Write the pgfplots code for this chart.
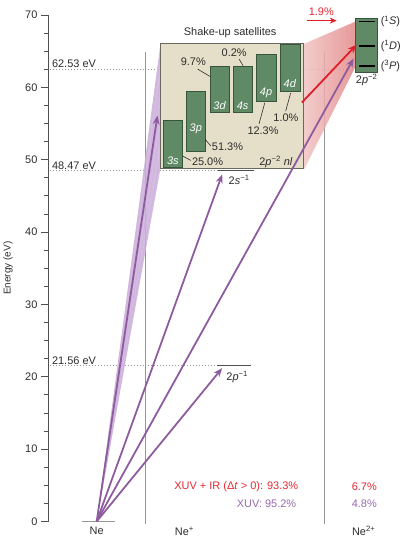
\documentclass[border=0pt]{standalone}
\usepackage{pgfplots}
\pgfplotsset{compat=1.18}
\usepackage{fontspec}
\setmainfont{Liberation Sans}
\usetikzlibrary{arrows.meta}

\definecolor{purp}{RGB}{142,92,158}
\definecolor{purptxt}{RGB}{150,105,172}
\definecolor{fanfill}{RGB}{205,175,220}
\definecolor{redarr}{RGB}{222,30,40}
\definecolor{redtxt}{RGB}{228,40,50}
\definecolor{shadeL}{RGB}{242,195,195}
\definecolor{shadeR}{RGB}{226,135,135}
\definecolor{grn}{RGB}{96,138,102}
\definecolor{grnline}{RGB}{55,85,60}
\definecolor{beige}{RGB}{229,222,200}
\definecolor{boxgray}{RGB}{105,105,95}
\definecolor{lvlgray}{RGB}{150,150,150}
\definecolor{axgray}{RGB}{80,80,80}
\definecolor{txtgray}{RGB}{45,45,45}

\newcommand{\lbl}{\fontsize{11}{13}\selectfont}

\begin{document}
\begin{tikzpicture}
\begin{axis}[
  scale only axis, width=351pt, height=508.5pt,
  xmin=49, xmax=400, ymin=0, ymax=70,
  axis x line=none,
  axis y line*=left,
  axis line style={draw=axgray, line width=0.8pt, -},
  ytick={0,10,...,70},
  minor y tick num=3,
  ytick pos=left,
  tick align=outside,
  major tick length=8pt, minor tick length=5pt,
  every tick/.style={axgray, line width=0.8pt},
  yticklabel style={font=\lbl, text=txtgray},
  /pgf/number format/assume math mode=true,
  ylabel={Energy (eV)},
  ylabel style={font=\fontsize{10}{12}\selectfont, text=txtgray, at={(axis description cs:-0.117,0.5)}, anchor=center},
  clip=false, no markers,
]
% overall extent of the figure
\path (axis cs:0,-2.134) rectangle (axis cs:401,72.07);

% reference energies
\addplot[lvlgray, line width=0.7pt, dash pattern=on 0.8pt off 2.2pt] coordinates {(50,62.53) (355,62.53)};
\addplot[lvlgray, line width=0.7pt, dash pattern=on 0.8pt off 2.2pt] coordinates {(50,48.47) (219,48.47)};
\addplot[lvlgray, line width=0.7pt, dash pattern=on 0.8pt off 2.2pt] coordinates {(50,21.56) (218,21.56)};
\node[anchor=south west, inner sep=1pt, font=\lbl, text=txtgray] at (axis cs:51,62.53) {62.53 eV};
\node[anchor=south west, inner sep=1pt, font=\lbl, text=txtgray] at (axis cs:51,48.47) {48.47 eV};
\node[anchor=south west, inner sep=1pt, font=\lbl, text=txtgray] at (axis cs:51,21.56) {21.56 eV};

% column separators
\addplot[lvlgray, line width=1pt] coordinates {(146,-0.35) (146,64.9)};
\addplot[lvlgray, line width=1pt] coordinates {(326,-0.35) (326,64.9)};

% single-ionization levels and ground state
\addplot[lvlgray, line width=1.3pt] coordinates {(82,0) (115,0)};
\addplot[axgray, line width=0.9pt] coordinates {(219,48.47) (255,48.47)};
\addplot[axgray, line width=0.9pt] coordinates {(218,21.56) (252,21.56)};
\node[font=\lbl, text=txtgray] at (axis cs:240,47.15) {2\textit{s}\textsuperscript{−1}};
\node[font=\lbl, text=txtgray] at (axis cs:238,20.03) {2\textit{p}\textsuperscript{−1}};

% excitation fan towards the satellites
\addplot[draw=none, fill=fanfill, fill opacity=0.85] coordinates {(97,0) (161,66.0) (161,48.76)} -- cycle;
\addplot[purp!55, line width=0.3pt, opacity=0.6] coordinates {(97,0) (161,64.5)};
\addplot[purp!55, line width=0.3pt, opacity=0.6] coordinates {(97,0) (161,61.0)};
\addplot[purp!55, line width=0.3pt, opacity=0.6] coordinates {(97,0) (161,57.5)};
\addplot[purp!55, line width=0.3pt, opacity=0.6] coordinates {(97,0) (161,54.0)};
\addplot[purp!55, line width=0.3pt, opacity=0.6] coordinates {(97,0) (161,50.5)};

% decay from the satellites to Ne2+
\addplot[draw=none, left color=shadeL, right color=shadeR, fill opacity=0.85] coordinates {(305,66.0) (357,69.1) (357,62.9) (305,48.6)} -- cycle;

% shake-up satellite box
\addplot[fill=beige, draw=boxgray, line width=0.9pt] coordinates {(161,48.76) (305,48.76) (305,66.0) (161,66.0)} -- cycle;
\node[font=\lbl, text=txtgray] at (axis cs:231,67.52) {Shake-up satellites};

% satellite states
\addplot[fill=grn, draw=grnline, line width=0.7pt] coordinates {(164,48.9) (183,48.9) (183,55.45) (164,55.45)} -- cycle;
\addplot[fill=grn, draw=grnline, line width=0.7pt] coordinates {(187,51.2) (206,51.2) (206,59.5) (187,59.5)} -- cycle;
\addplot[fill=grn, draw=grnline, line width=0.7pt] coordinates {(211,56.55) (230,56.55) (230,62.9) (211,62.9)} -- cycle;
\addplot[fill=grn, draw=grnline, line width=0.7pt] coordinates {(234,56.55) (253,56.55) (253,62.9) (234,62.9)} -- cycle;
\addplot[fill=grn, draw=grnline, line width=0.7pt] coordinates {(257,58.07) (277,58.07) (277,64.6) (257,64.6)} -- cycle;
\addplot[fill=grn, draw=grnline, line width=0.7pt] coordinates {(281,59.45) (301,59.45) (301,65.9) (281,65.9)} -- cycle;
\node[font=\lbl, text=white] at (axis cs:173.5,49.9) {\textit{3s}};
\node[font=\lbl, text=white] at (axis cs:196.5,54.31) {\textit{3p}};
\node[font=\lbl, text=white] at (axis cs:220.5,57.48) {\textit{3d}};
\node[font=\lbl, text=white] at (axis cs:243.5,57.48) {\textit{4s}};
\node[font=\lbl, text=white] at (axis cs:267,59.26) {\textit{4p}};
\node[font=\lbl, text=white] at (axis cs:291,60.5) {\textit{4d}};

% branching ratios
\addplot[txtgray, line width=0.6pt] coordinates {(183.3,50.5) (191.5,49.9)};
\addplot[txtgray, line width=0.6pt] coordinates {(206,52.8) (211.5,51.9)};
\addplot[txtgray, line width=0.6pt] coordinates {(198.3,62.53) (210.7,61.51)};
\addplot[txtgray, line width=0.6pt] coordinates {(240,63.9) (244,62.98)};
\addplot[txtgray, line width=0.6pt] coordinates {(260,54.95) (265.7,57.85)};
\addplot[txtgray, line width=0.6pt] coordinates {(286.7,56.7) (291.7,59.2)};
\node[anchor=west, inner sep=0.5pt, font=\lbl, text=txtgray] at (axis cs:192,49.77) {25.0\%};
\node[anchor=west, inner sep=0.5pt, font=\lbl, text=txtgray] at (axis cs:212,51.83) {51.3\%};
\node[font=\lbl, text=txtgray] at (axis cs:194,63.53) {9.7\%};
\node[font=\lbl, text=txtgray] at (axis cs:235,64.77) {0.2\%};
\node[font=\lbl, text=txtgray] at (axis cs:264,54.03) {12.3\%};
\node[font=\lbl, text=txtgray] at (axis cs:287,55.82) {1.0\%};
\node[font=\lbl, text=txtgray] at (axis cs:277,49.63) {2\textit{p}\textsuperscript{−2} \textit{nl}};

% Ne2+ states
\addplot[fill=grn, draw=grnline, line width=0.7pt] coordinates {(357,62.1) (379,62.1) (379,69.5) (357,69.5)} -- cycle;
\addplot[black, line width=1.8pt] coordinates {(360,69.1) (376,69.1)};
\addplot[black, line width=1.8pt] coordinates {(360,65.73) (376,65.73)};
\addplot[black, line width=1.8pt] coordinates {(360,62.9) (376,62.9)};
\node[anchor=west, inner sep=1pt, font=\lbl, text=txtgray] at (axis cs:381,69.1) {(\textsuperscript{1}\textit{S})};
\node[anchor=west, inner sep=1pt, font=\lbl, text=txtgray] at (axis cs:381,65.73) {(\textsuperscript{1}\textit{D})};
\node[anchor=west, inner sep=1pt, font=\lbl, text=txtgray] at (axis cs:381,62.9) {(\textsuperscript{3}\textit{P})};
\node[font=\lbl, text=txtgray] at (axis cs:368,61.05) {2\textit{p}\textsuperscript{−2}};

% transitions
\addplot[purp, line width=1.8pt, -{Stealth[length=9pt,width=7pt]}] coordinates {(97,0) (223,21.2)};
\addplot[purp, line width=1.8pt, -{Stealth[length=9pt,width=7pt]}] coordinates {(97,0) (223,47.97)};
\addplot[purp, line width=1.8pt, -{Stealth[length=9pt,width=7pt]}] coordinates {(97,0) (355,64.0)};
\addplot[purp, line width=1.8pt, -{Stealth[length=9pt,width=7pt]}] coordinates {(97,0) (158,56.1)};
\addplot[redarr, line width=1.8pt, -{Stealth[length=9pt,width=7pt]}] coordinates {(303,57.9) (358,65.9)};

% IR-induced transfer
\node[font=\lbl, text=redtxt] at (axis cs:322.5,70.42) {1.9\%};
\addplot[redarr, line width=1pt, -{Stealth[length=7pt,width=6pt]}] coordinates {(308,69.22) (338,69.22)};

% ionization yields
\node[anchor=east, inner sep=0pt, font=\lbl, text=redtxt] at (axis cs:299.5,4.75) {XUV + IR (Δ\textit{t} > 0): 93.3\%};
\node[anchor=east, inner sep=0pt, font=\lbl, text=purptxt] at (axis cs:297.5,2.45) {XUV: 95.2\%};
\node[font=\lbl, text=redtxt] at (axis cs:365.7,4.75) {6.7\%};
\node[font=\lbl, text=purptxt] at (axis cs:365.7,2.45) {4.8\%};

% charge states
\node[font=\lbl, text=txtgray] at (axis cs:97,-1.31) {Ne};
\node[font=\lbl, text=txtgray] at (axis cs:185,-1.31) {Ne\textsuperscript{+}};
\node[font=\lbl, text=txtgray] at (axis cs:365,-1.31) {Ne\textsuperscript{2+}};
\end{axis}
\end{tikzpicture}
\end{document}
